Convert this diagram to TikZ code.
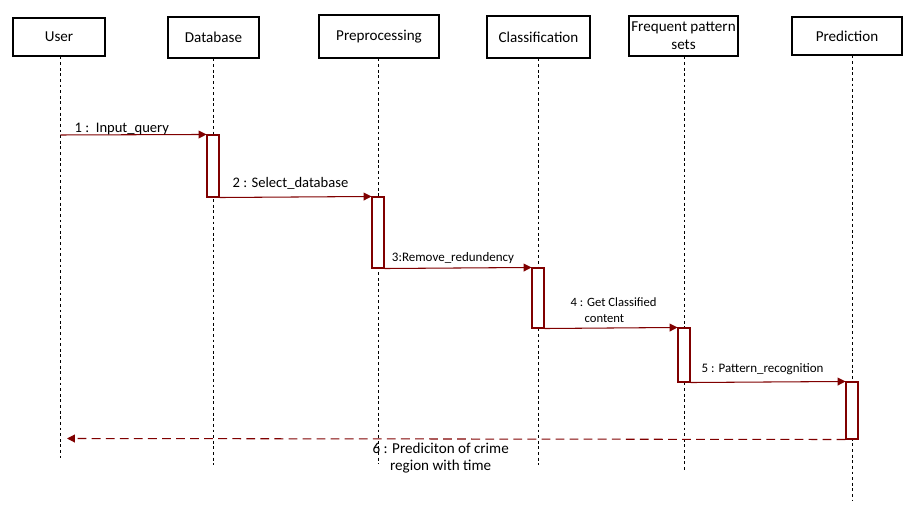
\documentclass[tikz,border=0pt]{standalone}
\usepackage{fontspec}
\setmainfont{Carlito}
\usetikzlibrary{arrows.meta}
\definecolor{msgred}{RGB}{128,0,0}
\tikzset{>={Triangle[length=4.5pt,width=4.5pt]},
  head/.style={draw, line width=0.6pt, inner sep=1pt, align=center, font=\fontsize{8.6}{10.2}\selectfont},
  lifeline/.style={line width=0.5pt, dash pattern=on 1.6pt off 1.6pt},
  actbar/.style={draw=msgred, fill=white, line width=0.6pt, minimum width=0.24cm, inner sep=0pt},
  msg/.style={draw=msgred, line width=0.6pt, ->, color=msgred},
  reply/.style={msg, dash pattern=on 5pt off 3pt},
  lbl/.style={text=black, inner sep=1pt, font=\fontsize{7.4}{9}\selectfont},
  biglbl/.style={lbl, font=\fontsize{8.3}{9.6}\selectfont}}

\begin{document}
\begin{tikzpicture}[x=0.02cm, y=-0.02cm]
    \useasboundingbox (0,0) rectangle (917,516);
    % objects
    \node[head, minimum width=1.84cm, minimum height=0.76cm] (user) at (59,37) {User};
    \node[head, minimum width=1.82cm, minimum height=0.82cm] (db) at (213.5,37.5) {Database};
    \node[head, minimum width=2.40cm, minimum height=0.86cm] (pre) at (379,36.5) {Preprocessing};
    \node[head, minimum width=2.06cm, minimum height=0.84cm] (cls) at (538.5,37) {Classification};
    \node[head, minimum width=2.18cm, minimum height=0.80cm] (fps) at (683.5,36) {Frequent pattern\\sets};
    \node[head, minimum width=2.20cm, minimum height=0.76cm] (pred) at (847,36) {Prediction};
    % lifelines
    \foreach \obj/\x/\y in {user/60.5/458, db/213/465, pre/378/464, cls/538/465, fps/684/470, pred/852/500} {
      \coordinate (\obj End) at (\x,\y);
      \draw[lifeline] (\obj.south -| \obj End) -- (\obj End);
    }
    % activations
    \node[actbar, minimum height=1.24cm] (dbAct) at (213,166) {};
    \node[actbar, minimum height=1.42cm] (preAct) at (378,232.5) {};
    \node[actbar, minimum height=1.20cm] (clsAct) at (538,298) {};
    \node[actbar, minimum height=1.08cm] (fpsAct) at (684,355) {};
    \node[actbar, minimum height=1.14cm] (predAct) at (852,410.5) {};
    % messages
    \coordinate (m1) at (60.5,135);
    \coordinate (m6) at (67,438.5);
    \draw[msg] (m1) -- node[biglbl, pos=0.42, above=-1.5pt] {1 :\ \ Input\_query} (dbAct.north west);
    \draw[msg] (dbAct.south east) -- node[biglbl, pos=0.467, above=3pt] {2 : Select\_database} (preAct.north west);
    \draw[msg] (preAct.south east) -- node[lbl, pos=0.466, above=1.5pt] {3:Remove\_redundency} (clsAct.north west);
    \draw[msg] (clsAct.south east) -- node[lbl, pos=0.52, above=2pt, align=left, font=\fontsize{7.2}{9}\selectfont] {4 : Get Classified\\\hspace*{1.1em}content} (fpsAct.north west);
    \draw[msg] (fpsAct.south east) -- node[lbl, pos=0.465, above=3pt] {5 : Pattern\_recognition} (predAct.north west);
    \draw[reply] (predAct.south west) -- node[lbl, pos=0.52, below=1pt, align=center, font=\fontsize{8.6}{9.6}\selectfont] {6 : Prediciton of crime\\region with time} (m6);
\end{tikzpicture}
\end{document}
